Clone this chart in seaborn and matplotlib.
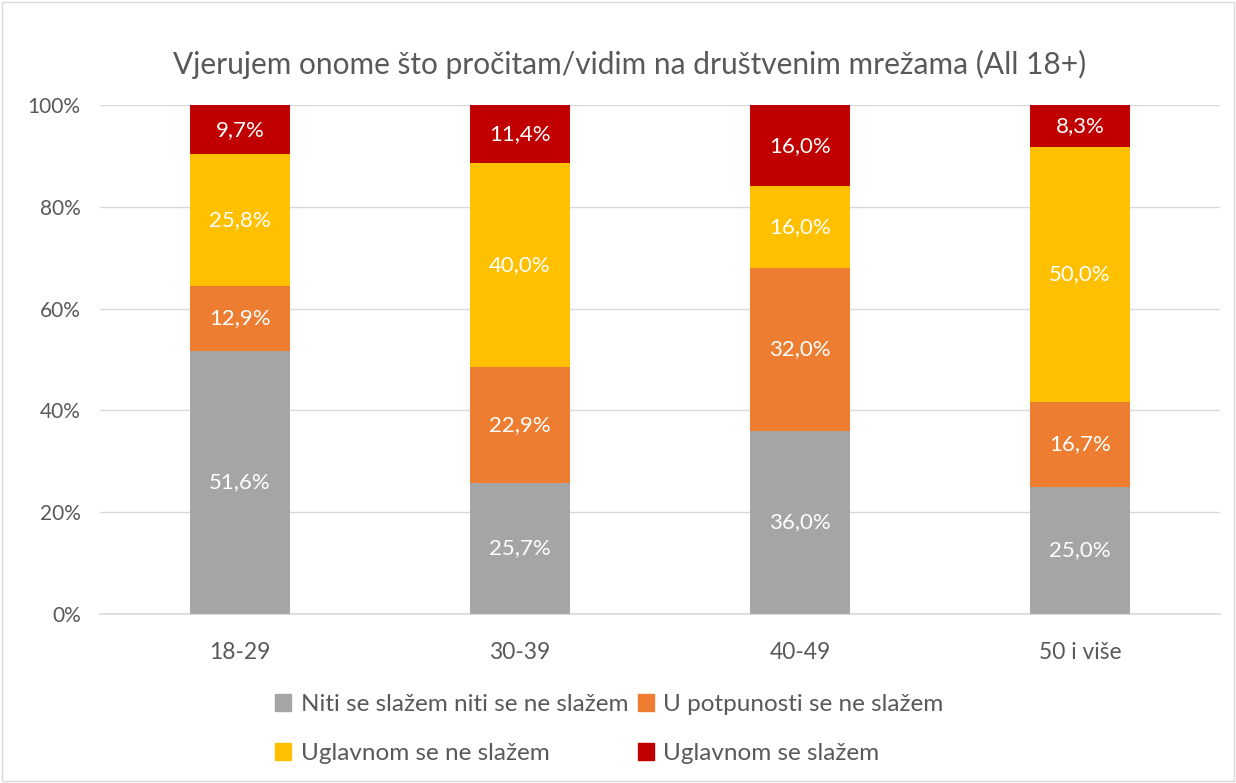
import matplotlib
matplotlib.use("Agg")
import matplotlib.pyplot as plt
from matplotlib.patches import Patch, Rectangle
import numpy as np
import pandas as pd
import seaborn as sns

# Data
age_groups = ["18-29", "30-39", "40-49", "50 i više"]
series_names = [
    "Niti se slažem niti se ne slažem",
    "U potpunosti se ne slažem",
    "Uglavnom se ne slažem",
    "Uglavnom se slažem",
]
neutral = [51.6, 25.7, 36.0, 25.0]
fully_disagree = [12.9, 22.9, 32.0, 16.7]
mostly_disagree = [25.8, 40.0, 16.0, 50.0]
mostly_agree = [9.7, 11.4, 16.0, 8.3]

colors = ["#A5A5A5", "#ED7D31", "#FFC000", "#C00000"]

sns.set_theme(style="white")
plt.rcParams["font.family"] = ["Lato", "DejaVu Sans"]

values = np.array([neutral, fully_disagree, mostly_disagree, mostly_agree])
tops = values.cumsum(axis=0)
bottoms = tops - values

fig = plt.figure(figsize=(12.36, 7.83), dpi=100)
ax = fig.add_axes([0.081, 0.216, 0.906, 0.650])

# draw stacked bars from the top layer down so each overlays the next
for i in reversed(range(len(series_names))):
    df = pd.DataFrame({"group": age_groups, "value": tops[i] / 100})
    sns.barplot(data=df, x="group", y="value", color=colors[i], width=0.36,
                saturation=1, linewidth=0, edgecolor="none", ax=ax, zorder=3)

for i in range(len(series_names)):
    for j, grp in enumerate(age_groups):
        mid = (bottoms[i, j] + values[i, j] / 2) / 100
        ax.text(j, mid, f"{values[i, j]:.1f}%".replace(".", ","),
                ha="center", va="center", color="white", fontsize=16, zorder=4)

ax.set_ylim(0, 1)
ax.set_xlim(-0.5, 3.5)
ax.set_yticks(np.arange(0, 1.01, 0.2))
ax.set_yticklabels([f"{int(t * 100)}%" for t in np.arange(0, 1.01, 0.2)])
ax.yaxis.grid(True, color="#D9D9D9", linewidth=1, zorder=0)
ax.set_axisbelow(True)
ax.set_xlabel("")
ax.set_ylabel("")
for s in ["top", "right", "left"]:
    ax.spines[s].set_visible(False)
ax.spines["bottom"].set_color("#D9D9D9")
ax.tick_params(axis="x", colors="#595959", labelsize=16.5, pad=20, length=0)
ax.tick_params(axis="y", colors="#595959", labelsize=15, pad=14, length=0)

ax.set_title("Vjerujem onome što pročitam/vidim na društvenim mrežama (All 18+)",
             fontsize=21.5, color="#595959", pad=22, x=0.473)

handles = [Patch(color=c) for c in colors]
order = [0, 2, 1, 3]
fig.legend([handles[k] for k in order], [series_names[k] for k in order],
           loc="center", bbox_to_anchor=(0.493, 0.069), ncol=2, frameon=False,
           fontsize=17.5, labelcolor="#595959", handlelength=0.65, handleheight=0.65,
           handletextpad=0.4, columnspacing=0.4, labelspacing=1.15)

fig.patches.append(Rectangle((0.002, 0.002), 0.996, 0.996, transform=fig.transFigure,
                             fill=False, edgecolor="#D9D9D9", linewidth=1))

fig.savefig("out.png", dpi=100)
